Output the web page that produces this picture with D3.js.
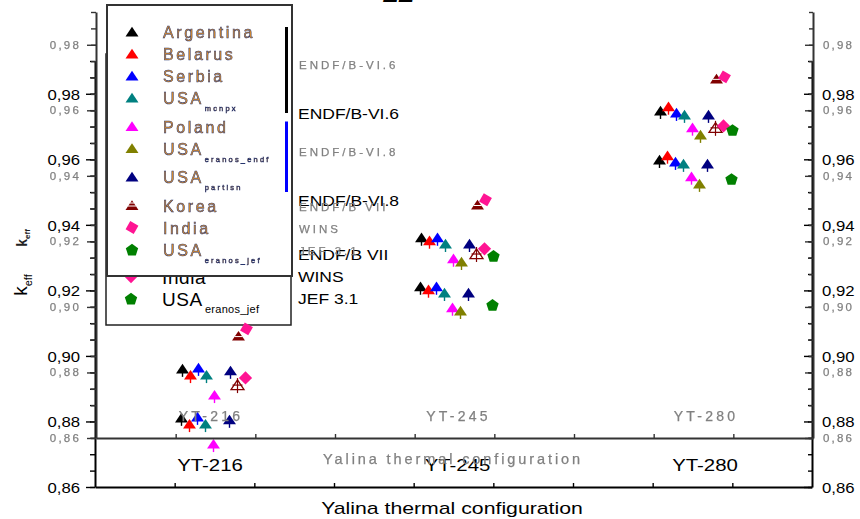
<!DOCTYPE html>
<html><head><meta charset="utf-8">
<script src="https://cdn.jsdelivr.net/npm/d3@7"></script>
<style>body{margin:0;background:#fff}svg{display:block}</style>
</head><body>
<svg id="c" width="860" height="519"></svg>
<script>
// ---------------- data ----------------
const categories = ["YT-216", "YT-245", "YT-280"];
const seriesNames = ["Argentina", "Belarus", "Serbia", "USA", "Poland", "USA", "USA", "Korea", "India", "USA"];
const seriesSubs  = ["", "", "", "mcnpx", "", "eranos_endf", "partisn", "", "", "eranos_jef"];
const argentina     = [0.8811, 0.9211, 0.9598];
const belarus       = [0.8792, 0.9202, 0.9611];
const serbia        = [0.8814, 0.9211, 0.9592];
const usaMcnpx      = [0.8792, 0.9192, 0.9586];
const poland        = [0.8731, 0.9147, 0.9547];
const usaEranosEndf = [null,   0.9137, 0.9525];
const usaPartisn    = [0.8805, 0.9192, 0.9586];
const korea         = [0.8911, 0.9311, 0.9696];
const india         = [0.8933, 0.9327, 0.9702];
const usaEranosJef  = [null,   0.9156, 0.9540];
const yTickValues = [0.86, 0.88, 0.90, 0.92, 0.94, 0.96, 0.98];
const yTickLabels = ["0,86", "0,88", "0,90", "0,92", "0,94", "0,96", "0,98"];
const libraries = ["ENDF/B-VI.6", "ENDF/B-VI.8", "ENDF/B VII", "WINS", "JEF 3.1"];
const libraryOf = [0, 0, 0, 0, 1, 1, 1, 2, 3, 4];
const xTitle = "Yalina thermal configuration";
const yTitle = "k", yTitleSub = "eff";

// ---------------- styling ----------------
const values = [argentina, belarus, serbia, usaMcnpx, poland, usaEranosEndf, usaPartisn, korea, india, usaEranosJef];
const colors = ["#000000", "#ff0000", "#0000ff", "#008080", "#ff00ff", "#808000", "#000080", "#800000", "#ff1493", "#008000"];
const shapesOf = ["tri", "tri", "tri", "tri", "tri", "tri", "tri", "korea", "diamond", "pentagon"];
const libBarColors = ["#000000", "#0000ff"];
const FONT = "'Liberation Sans', Arial, Helvetica, sans-serif";

const W = 860, H = 519;
const L = 95, R = 812, B = 487, T = 61;
const svg = d3.select("#c");
svg.append("defs").append("filter").attr("id", "blur")
  .append("feGaussianBlur").attr("stdDeviation", 0.35);

const y = d3.scaleLinear().domain([0.86, 0.99]).range([B, T]);
const xTick = d3.scaleLinear().domain([0, 9]).range([L, R]);
const xCat = d3.scaleBand().domain(categories).range([L + 3, R + 3]);
const xLab = d3.scalePoint().domain(categories).range([210, 705]);
const minorVals = d3.range(0, 27).map(i => +(0.86 + i * 0.005).toFixed(3));

const tri = { draw(ctx, size) { const r = Math.sqrt(size); ctx.moveTo(0, -r * 0.8); ctx.lineTo(r, r * 0.7); ctx.lineTo(-r, r * 0.7); ctx.closePath(); } };
const dia = { draw(ctx, size) { const r = Math.sqrt(size); ctx.moveTo(0, -r); ctx.lineTo(r, 0); ctx.lineTo(0, r); ctx.lineTo(-r, 0); ctx.closePath(); } };
const pent = { draw(ctx, size) { const r = Math.sqrt(size); for (let k = 0; k < 5; k++) { const a = -Math.PI / 2 + k * 2 * Math.PI / 5; const px = r * Math.cos(a), py = r * Math.sin(a) + r * 0.1; if (k === 0) ctx.moveTo(px, py); else ctx.lineTo(px, py); } ctx.closePath(); } };

function marker(g, i, cx, cy, ghost, inLegend) {
  const c = colors[i], sh = shapesOf[i];
  const m = g.append("g").attr("transform", `translate(${cx},${cy})`);
  if (sh === "tri") {
    if (!inLegend) m.append("line").attr("x1", 0).attr("x2", 0).attr("y1", -3).attr("y2", 8).attr("stroke", c).attr("stroke-width", 1.4);
    m.append("path").attr("d", d3.symbol().type(tri).size(42)()).attr("fill", c);
  } else if (sh === "korea") {
    if (ghost) {
      m.append("path").attr("d", d3.symbol().type(tri).size(42)()).attr("fill", c);
      m.append("line").attr("x1", -4).attr("x2", 4).attr("y1", 0.5).attr("y2", 0.5).attr("stroke", "#fff").attr("stroke-width", 1);
      if (inLegend) m.append("line").attr("x1", -2).attr("x2", 2).attr("y1", -2.5).attr("y2", -2.5).attr("stroke", "#fff").attr("stroke-width", 1);
    } else {
      m.append("path").attr("d", d3.symbol().type(tri).size(42)()).attr("fill", "none").attr("stroke", c).attr("stroke-width", 1.3);
      m.append("line").attr("x1", 0).attr("x2", 0).attr("y1", -7).attr("y2", 8).attr("stroke", c).attr("stroke-width", 1.2);
      m.append("line").attr("x1", -5).attr("x2", 5).attr("y1", 0).attr("y2", 0).attr("stroke", c).attr("stroke-width", 1.2);
    }
  } else if (sh === "diamond") {
    m.append("path").attr("d", d3.symbol().type(dia).size(44)()).attr("fill", c)
      .attr("transform", ghost ? "rotate(-15)" : null);
  } else {
    m.append("path").attr("d", d3.symbol().type(pent).size(42)()).attr("fill", c);
  }
}

function stext(g, x, yy, str, size, sx, anchor, fill) {
  return g.append("text").attr("transform", `translate(${x},${yy}) scale(${sx},1)`)
    .attr("font-family", FONT).attr("font-size", size).attr("text-anchor", anchor)
    .attr("dominant-baseline", "central").attr("fill", fill).text(str);
}
function gtext(g, x, yy, str, size, ls, anchor, fill) {
  return g.append("text").attr("x", x).attr("y", yy)
    .attr("font-family", FONT).attr("font-size", size).attr("text-anchor", anchor)
    .attr("letter-spacing", ls).attr("dominant-baseline", "central")
    .attr("fill", fill).attr("stroke", fill).attr("stroke-width", 0.25)
    .attr("filter", "url(#blur)").text(str);
}

function legendYs(y0) {
  const ys = []; let yy = y0;
  seriesNames.forEach((n, i) => { ys.push(yy); yy += 22 + (seriesSubs[i] ? 6.5 : 0); });
  return ys;
}

function drawChart(g, ghost) {
  const ax = ghost ? "#333" : "#000";
  const lab = ghost ? "#808080" : "#000";
  const styleAxis = a => { a.select(".domain").attr("stroke", ax).attr("stroke-width", 2); a.selectAll(".tick line").attr("stroke", ax).attr("stroke-width", 1.4); };
  // left axis
  g.append("g").attr("transform", `translate(${L},0)`)
    .call(d3.axisLeft(y).tickValues(minorVals).tickSize(5).tickSizeOuter(0).tickFormat("")).call(styleAxis);
  g.append("g").attr("transform", `translate(${L},0)`)
    .call(d3.axisLeft(y).tickValues(yTickValues).tickSize(9).tickSizeOuter(0).tickFormat("")).call(styleAxis)
    .call(a => a.select(".domain").remove());
  // right axis
  g.append("g").attr("transform", `translate(${R},0)`)
    .call(d3.axisRight(y).tickValues(minorVals).tickSizeInner(-4).tickSizeOuter(0).tickFormat("")).call(styleAxis);
  g.append("g").attr("transform", `translate(${R},0)`)
    .call(d3.axisRight(y).tickValues(yTickValues).tickSizeInner(-8).tickSizeOuter(0).tickFormat("")).call(styleAxis)
    .call(a => a.select(".domain").remove());
  // bottom axis
  g.append("g").attr("transform", `translate(0,${B})`)
    .call(d3.axisBottom(xTick).tickValues(d3.range(1, 9)).tickSizeInner(-4).tickSizeOuter(0).tickFormat("")).call(styleAxis);

  // y tick labels
  yTickValues.forEach((v, k) => {
    if (ghost) {
      gtext(g, 80, y(v), yTickLabels[k], 11.5, 2.2, "end", lab);
      gtext(g, 822, y(v), yTickLabels[k], 11.5, 2.2, "start", lab);
    } else {
      stext(g, 80, y(v), yTickLabels[k], 15.5, 1.08, "end", lab);
      stext(g, 822, y(v), yTickLabels[k], 15.5, 1.08, "start", lab);
    }
  });
  // category labels & x title
  categories.forEach(c => {
    if (ghost) gtext(g, xLab(c), 465, c, 14, 3.2, "middle", lab);
    else stext(g, xLab(c), 465, c, 17, 1.2, "middle", lab);
  });
  if (ghost) gtext(g, 452, 508, xTitle, 14.5, 2.9, "middle", lab);
  else stext(g, 452, 508, xTitle, 17, 1.25, "middle", lab);
  // y title
  const yt = g.append("text").attr("transform", `translate(${ghost ? 26 : 27},${ghost ? 287 : 285}) rotate(-90)`)
    .attr("font-family", FONT).attr("text-anchor", "middle").attr("fill", ghost ? "#222" : "#000")
    .attr("font-weight", ghost ? "bold" : "normal");
  yt.append("tspan").attr("font-size", ghost ? 14 : 19).text(yTitle);
  yt.append("tspan").attr("font-size", ghost ? 8 : 11).attr("dy", ghost ? 3 : 5).text(yTitleSub);

  // points
  values.forEach((vals, i) => {
    vals.forEach((v, j) => {
      if (v == null) return;
      const cx = xCat(categories[j]) + xCat.bandwidth() / 2 + (i - 4.5) * 8;
      marker(g, i, cx, y(v), ghost, false);
    });
  });

  // legend
  const lg = g.append("g");
  lg.append("rect").attr("x", 106).attr("y", 54).attr("width", 185).attr("height", 271)
    .attr("fill", "#fff").attr("stroke", ghost ? "#333" : "#222").attr("stroke-width", ghost ? 2 : 1.5);
  const ys = legendYs(81);
  seriesNames.forEach((n, i) => {
    marker(lg, i, 131, ys[i], ghost, true);
    const t = lg.append("text").attr("x", 162).attr("y", ys[i]).attr("dominant-baseline", "central")
      .attr("font-family", FONT);
    if (ghost) {
      t.attr("letter-spacing", 2.6).attr("font-size", 16).attr("fill", "#e0902c")
        .attr("stroke", "#26346e").attr("stroke-width", 0.5).attr("filter", "url(#blur)");
      t.append("tspan").text(n);
      if (seriesSubs[i]) t.append("tspan").attr("font-size", 7.5).attr("letter-spacing", 2.2).attr("dx", 1).attr("dy", 10).text(seriesSubs[i]);
    } else {
      t.attr("font-size", 19).attr("fill", "#000").attr("letter-spacing", 0.6);
      t.append("tspan").text(n);
      if (seriesSubs[i]) t.append("tspan").attr("font-size", 11).attr("dx", 2).attr("dy", 10).attr("letter-spacing", 0.3).text(seriesSubs[i]);
    }
  });
  // library bars and labels
  libraries.forEach((lib, k) => {
    const idx = libraryOf.map((l, i) => l === k ? i : -1).filter(i => i >= 0);
    const y1 = ys[idx[0]], y2 = ys[idx[idx.length - 1]];
    if (idx.length > 1) {
      lg.append("rect").attr("x", 284).attr("y", y1 - 5).attr("width", 3).attr("height", y2 - y1 + 20)
        .attr("fill", libBarColors[k]);
    }
    const ly = idx.length > 1 ? (y1 + y2) / 2 : ys[idx[0]] + 1;
    if (ghost) gtext(g, 298, ly, lib, 11.5, 3, "start", lab);
    else stext(g, 298, ly, lib, 14, 1.25, "start", "#000");
  });
}

const mainG = svg.append("g");
drawChart(mainG, false);
const ghostG = svg.append("g").attr("transform", "translate(1,-49)");
drawChart(ghostG, true);

// page number fragment at the top (cut off by the top edge, as in the source)
svg.append("text").attr("x", 399).attr("y", 2).attr("text-anchor", "middle")
  .attr("font-family", FONT).attr("font-size", 28).attr("font-weight", "bold").attr("font-style", "italic")
  .attr("fill", "#000").text("22");
</script>
</body></html>
